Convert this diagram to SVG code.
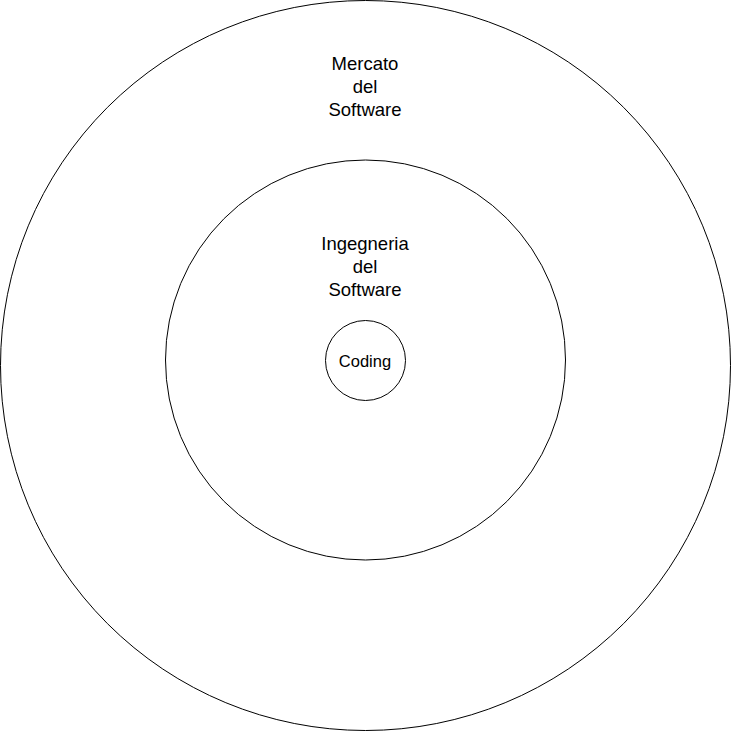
<svg xmlns="http://www.w3.org/2000/svg" width="731" height="731" viewBox="0 0 731 731">
<style>
.c{fill:#fff;stroke:#000;stroke-width:1}
.t{font-family:"Liberation Sans",Arial,sans-serif;font-size:18.5px;fill:#000;text-anchor:middle}
.s{font-size:16.5px}
</style>
<rect width="731" height="731" fill="#fff"/>
<g id="mercato">
<circle class="c" cx="365.5" cy="365.5" r="365"/>
<text class="t" x="365" y="69.5">Mercato</text>
<text class="t" x="365" y="92.5">del</text>
<text class="t" x="365" y="115.5">Software</text>
</g>
<g id="ingegneria">
<circle class="c" cx="365.5" cy="360" r="200"/>
<text class="t" x="365" y="249.5">Ingegneria</text>
<text class="t" x="365" y="272.5">del</text>
<text class="t" x="365" y="295.5">Software</text>
</g>
<g id="coding">
<circle class="c" cx="365.5" cy="360.5" r="40"/>
<text class="t s" x="365" y="366.5">Coding</text>
</g>
<g id="connectors"></g>
</svg>
